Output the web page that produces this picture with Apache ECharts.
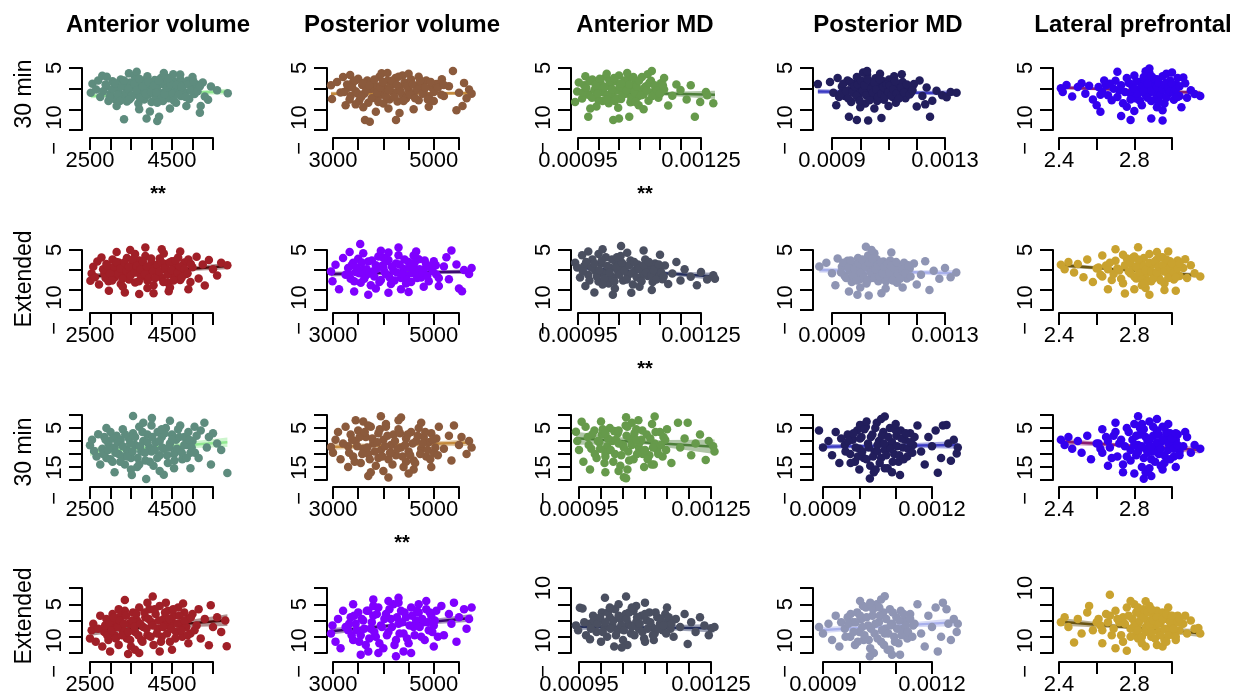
<!DOCTYPE html>
<html>
<head>
<meta charset="utf-8">
<script src="https://cdn.jsdelivr.net/npm/echarts@6/dist/echarts.min.js"></script>
<style>
html,body{margin:0;padding:0;background:#fff}
#chart{width:1240px;height:699px}
</style>
</head>
<body>
<div id="chart"></div>
<script>
// ---- labels ----
var colTitles = ['Anterior volume', 'Posterior volume', 'Anterior MD', 'Posterior MD', 'Lateral prefrontal'];
var rowTitles = ['30 min', 'Extended', '30 min', 'Extended'];
var stars = [[0, 0], [0, 2], [1, 2], [2, 1]]; // [row, col] of "**" under panel

// ---- tick values and tick labels (MD columns in units of 1e-6) ----
var xTicksVol1 = [2500, 3000, 3500, 4000, 4500, 5000, 5500];
var xLabVol1 = ['2500', '', '', '', '4500', '', ''];
var xTicksVol2 = [3000, 3500, 4000, 4500, 5000, 5500];
var xLabVol2 = ['3000', '', '', '', '5000', ''];
var xTicksAMD = [950, 1000, 1050, 1100, 1150, 1200, 1250];
var xLabAMD = ['0.00095', '', '', '', '', '', '0.00125'];
var xTicksPMD1 = [900, 1000, 1100, 1200, 1300];
var xLabPMD1 = ['0.0009', '', '', '', '0.0013'];
var xTicksPMD2 = [900, 1000, 1100, 1200];
var xLabPMD2 = ['0.0009', '', '', '0.0012'];
var xTicksLPF = [2.4, 2.6, 2.8, 3.0];
var xLabLPF = ['2.4', '', '2.8', ''];

var yTicksA = [-10, -5, 0, 5];
var yLabA = ['\u2212  10', '', '', '5'];
var yTicksB = [-15, -10, -5, 0, 5, 10];
var yLabB = ['\u2212  15', '', '', '', '5', ''];
var yTicksC = [-10, -5, 0, 5, 10];
var yLabC = ['\u2212  10', '', '', '5', ''];
var yLabC2 = ['\u2212  10', '', '', '', '10'];

// ---- points [x, y] ----
var r1c1 = [[2900,0.5],[3000,-1.2],[3050,1.8],[3100,-2.5],[3150,0.2],[3200,-0.8],[3250,2.2],[3300,-1.9],[3350,0.9],[3400,-3.1],[3420,-0.3],[3480,1.5],[3500,-2.2],[3550,0.4],[3600,2.8],[3620,-1.4],[3680,-3.6],[3700,0.9],[3750,-0.6],[3780,1.9],[3820,-2.6],[3850,0.1],[3900,3.0],[3920,-1.5],[3950,1.2],[4000,-3.2],[4020,-0.2],[4080,2.1],[4100,-2.0],[4150,0.6],[4200,-1.0],[4230,2.6],[4280,-3.0],[4300,1.0],[4350,-0.5],[4400,2.0],[4420,-2.3],[4480,0.3],[4520,-1.2],[4560,1.6],[4600,-3.4],[4650,-0.1],[4700,2.3],[4720,-1.8],[4780,0.8],[4820,-0.9],[4880,1.9],[4920,-2.5],[4980,0.2],[5050,-1.3],[5100,1.0],
  [2520,-1.0],[2560,1.2],[2650,-0.2],[2700,2.0],[2750,-2.0],[2800,3.1],[2910,2.9],[2950,-3.0],[3150,-4.2],[3330,-7.4],[3450,3.7],[3640,4.1],[3700,-5.0],[3880,-7.2],[3960,-5.5],[4140,-7.8],[4185,-6.8],[4300,3.8],[4450,-4.8],[4530,3.5],[4700,3.4],[4850,-4.2],[5000,2.8],[5180,-5.8],[5200,-4.2],[5250,1.5],[5300,-1.9],[5380,-2.7],[5450,0.5],[5600,-0.4],[5860,-1.1],
  [2820,-0.6],[2880,1.0],[2980,-2.0],[3060,0.0],[3120,1.3],[3180,-1.5],[3230,-3.0],[3280,0.6],[3330,2.0],[3380,-1.0],[3440,0.0],[3520,-1.6],[3580,1.2],[3640,-0.4],[3720,-2.2],[3790,0.5],[3860,-1.2],[3930,1.6],[3990,-0.8],[4060,0.8],[4120,-1.0],[4180,2.0],[4240,-2.4],[4320,-1.3],[4380,0.2],[4460,1.1],[4540,-2.8],[4600,0.9],[4670,-1.4],[4740,0.4],[4830,-2.0],[4900,1.0],[4960,-0.5],[5020,1.8],[5120,-0.6],[5180,0.6],[3460,-2.6],[4140,-3.4],[3700,2.4],[4420,2.6]];
var r1c2 = [[3300,0.2],[3350,-1.8],[3400,1.6],[3450,-0.6],[3500,2.4],[3520,-2.9],[3580,0.9],[3620,-1.2],[3680,2.0],[3700,-3.4],[3750,-0.1],[3800,1.4],[3830,-2.2],[3880,0.5],[3920,2.9],[3950,-1.5],[4000,-3.6],[4030,0.0],[4080,1.9],[4120,-2.6],[4150,0.8],[4200,-0.9],[4240,2.6],[4280,-3.1],[4320,0.3],[4380,-1.6],[4420,1.5],[4450,-2.4],[4500,-0.3],[4550,2.2],[4600,-1.1],[4650,0.7],[4700,-2.8],[4750,1.2],[4800,-0.5],[4850,2.0],[4900,-1.9],[4950,0.4],[5000,-3.0],[5050,1.1],[3600,-4.5],[4100,-4.8],[4380,3.2],[3450,-3.8],[4700,2.9],
  [2960,0.8],[2980,-2.5],[3080,1.6],[3150,-0.9],[3200,2.8],[3250,-4.0],[3340,3.3],[3635,-7.6],[3730,-8.0],[3850,-5.6],[3965,3.7],[4080,3.8],[4250,-7.6],[4320,-5.9],[4500,3.6],[4600,-5.0],[4900,-4.4],[5160,2.3],[5200,-1.8],[5300,0.6],[5380,4.3],[5450,-5.2],[5500,-1.0],[5570,-4.2],[5600,1.4],[5650,-2.3],[5700,-0.2],[5750,-1.2],
  [3220,-0.8],[3280,1.0],[3330,-2.6],[3380,0.4],[3440,2.0],[3490,-1.2],[3560,-2.0],[3610,1.4],[3660,-0.3],[3720,0.8],[3770,-2.3],[3820,2.2],[3870,-0.9],[3940,0.3],[3990,1.6],[4050,-1.9],[4110,-0.4],[4170,1.9],[4220,-2.0],[4270,0.9],[4340,-0.7],[4400,-3.0],[4470,0.6],[4530,-1.5],[4580,1.0],[4630,-2.3],[4680,-0.2],[4730,2.0],[4780,-1.2],[4830,0.2],[4880,-2.6],[4940,1.6],[5000,-0.8],[5080,0.2],[5150,-1.5],[5200,0.9],[3900,-3.2],[4300,2.9]];
var r1c3 = [[965,0.8],[975,-1.5],[985,2.2],[990,-0.3],[1000,-2.8],[1005,1.4],[1012,-0.9],[1018,2.9],[1025,-3.5],[1030,0.3],[1035,-1.9],[1040,1.8],[1046,-0.4],[1050,3.2],[1055,-2.5],[1060,0.9],[1066,-1.2],[1072,2.4],[1078,-3.3],[1083,0.1],[1090,1.5],[1095,-2.0],[1100,-0.6],[1106,2.8],[1110,-1.4],[1116,0.6],[1122,-2.9],[1128,1.9],[1134,-0.8],[1140,0.4],[1146,-2.2],[1152,1.3],[1160,-0.2],[995,-4.3],[1020,3.6],[1048,-4.6],[1070,3.8],[1098,-4.0],[1000,0.0],[1060,-0.5],[1040,-3.0],[1085,2.8],
  [943,-3.2],[948,-0.7],[952,1.5],[960,-2.4],[968,3.0],[975,-6.8],[980,-4.8],[1036,-7.6],[1050,-7.2],[1075,-6.8],[1110,-5.0],[1130,4.3],[1120,3.5],[1160,2.6],[1170,-4.1],[1180,-1.7],[1190,1.0],[1200,-0.3],[1215,-2.6],[1225,0.8],[1235,-6.8],[1248,-3.2],[1262,-0.8],[1280,-3.5],[1265,-1.6],
  [962,-1.0],[970,0.2],[978,1.8],[984,-2.2],[993,0.9],[998,-1.2],[1003,2.4],[1010,-3.0],[1015,0.4],[1022,-1.6],[1027,1.8],[1033,-0.2],[1038,2.6],[1044,-2.4],[1052,0.6],[1058,-1.6],[1063,2.0],[1069,-0.4],[1075,1.0],[1080,-2.2],[1087,-0.8],[1093,0.6],[1099,2.0],[1104,-1.6],[1112,0.2],[1118,-0.4],[1124,1.4],[1131,-1.8],[1137,0.8],[1143,-0.4],[1150,-1.2],[1157,0.8],[1020,-2.6],[1090,-3.2],[1055,1.2]];
var r1c4 = [[935,0.5],[945,-1.8],[955,2.0],[960,-0.4],[968,-3.2],[975,1.2],[982,-1.1],[988,2.8],[995,-2.5],[1000,0.2],[1006,-0.9],[1012,1.7],[1018,-3.6],[1024,3.4],[1030,-0.1],[1036,-2.2],[1042,1.0],[1048,-1.4],[1054,2.5],[1060,-3.0],[1066,0.6],[1072,-0.7],[1078,1.9],[1084,-2.7],[1090,0.0],[1096,-1.6],[1102,2.2],[1108,-0.3],[1114,-2.0],[1120,1.3],[1126,-3.4],[1132,0.4],[1140,-1.0],[1150,1.6],[1160,-2.3],[1170,0.2],[1180,-0.9],[1190,1.1],[1000,-4.5],[1050,-4.8],[1010,3.9],[1070,3.6],[1100,-4.2],[1120,3.0],[985,-1.2],[1045,0.7],
  [850,1.1],[893,1.6],[905,-1.0],[915,-4.0],[920,2.6],[925,-2.0],[960,-6.8],[988,-7.6],[1028,-7.7],[1075,-7.1],[1024,4.3],[1147,3.5],[1200,-4.3],[1210,2.0],[1220,-1.8],[1235,0.3],[1247,-6.8],[1255,-2.9],[1270,-0.5],[1290,-1.6],[1306,-2.1],[1320,-0.8],[1341,-1.0],[1230,-3.8],
  [932,-1.2],[940,1.2],[950,-0.6],[958,-2.4],[964,1.6],[972,-0.8],[980,0.6],[986,-1.8],[992,1.0],[998,-3.0],[1003,2.0],[1009,-0.4],[1015,0.8],[1021,-1.6],[1027,2.2],[1033,-2.8],[1039,0.0],[1045,-1.0],[1051,1.4],[1057,-0.2],[1063,-2.0],[1069,2.2],[1075,-1.2],[1081,0.4],[1087,-2.0],[1093,1.0],[1099,-0.8],[1105,0.8],[1111,-1.6],[1117,-0.2],[1123,1.8],[1129,-1.2],[1137,-2.4],[1145,0.2],[1155,-0.9],[1165,1.0],[1175,-1.4],[1185,-0.4]];
var r1c5 = [[2.62,-1.5],[2.65,0.8],[2.68,-2.8],[2.70,1.9],[2.72,-0.4],[2.74,-3.5],[2.76,2.6],[2.78,-1.2],[2.79,0.5],[2.80,3.2],[2.81,-2.4],[2.82,-0.2],[2.83,1.6],[2.84,-4.0],[2.85,2.8],[2.86,-1.6],[2.87,0.3],[2.88,3.8],[2.89,-3.0],[2.90,1.2],[2.91,-0.9],[2.92,2.3],[2.93,-2.2],[2.94,0.0],[2.95,3.0],[2.96,-3.6],[2.97,1.4],[2.98,-1.3],[2.99,2.0],[3.00,-0.5],[3.01,-2.7],[3.02,0.9],[3.03,2.6],[3.04,-1.8],[2.84,1.0],[2.88,-1.0],[2.92,-4.5],[2.86,4.2],[2.76,-4.4],[2.95,-5.2],[2.80,-5.4],[2.97,3.6],[2.90,0.6],
  [2.41,0.1],[2.42,-0.8],[2.44,0.9],[2.47,-1.9],[2.50,0.4],[2.52,1.3],[2.54,-1.2],[2.56,0.7],[2.58,-2.6],[2.60,-4.0],[2.62,-5.6],[2.64,2.0],[2.71,4.1],[2.73,-6.6],[2.78,-7.6],[2.88,4.9],[2.89,-7.2],[2.95,-7.7],[3.00,3.9],[3.05,-4.5],[3.07,1.3],[3.08,-2.2],[3.10,-0.4],[3.12,-1.3],[3.15,-1.8],[3.06,2.7],
  [2.61,0.4],[2.63,-0.8],[2.66,-1.6],[2.67,1.2],[2.69,0.0],[2.71,-2.0],[2.73,0.8],[2.75,-0.8],[2.77,1.4],[2.78,-2.6],[2.80,0.0],[2.81,1.8],[2.82,-1.2],[2.83,-3.0],[2.84,0.4],[2.85,-0.4],[2.86,2.0],[2.87,-2.2],[2.88,0.8],[2.89,-0.4],[2.90,2.6],[2.91,-2.6],[2.92,0.4],[2.93,1.4],[2.94,-1.4],[2.95,-0.2],[2.96,1.0],[2.97,-2.2],[2.98,0.2],[2.99,-0.6],[3.00,1.2],[3.01,-1.0],[3.02,-0.2],[3.03,-2.0],[3.04,0.6],[2.87,1.2],[2.93,-3.2],[2.89,3.0]];

var r2c1 = [[2850,-1.0],[2900,1.5],[2950,-2.8],[3000,0.3],[3050,2.6],[3100,-1.9],[3150,-0.2],[3200,1.9],[3250,-3.5],[3300,0.8],[3350,-1.2],[3400,3.0],[3450,-2.4],[3500,0.0],[3550,1.6],[3600,-3.1],[3650,-0.6],[3700,2.4],[3750,-1.7],[3800,0.6],[3850,3.5],[3900,-2.6],[3950,-0.1],[4000,1.8],[4050,-3.8],[4100,0.9],[4150,-1.1],[4200,2.9],[4250,-2.0],[4300,0.2],[4350,1.5],[4400,-3.2],[4450,-0.4],[4500,2.2],[4550,-1.5],[4600,1.0],[4650,3.1],[4700,-2.5],[4750,0.1],[4800,1.9],[4850,-1.0],[4900,2.6],[4950,-3.0],[5000,0.7],[3600,4.0],[3900,-4.5],[4300,4.1],[4450,-4.4],[3300,-4.2],
  [2510,-2.7],[2540,-0.9],[2580,0.8],[2620,-1.8],[2680,2.1],[2720,-3.6],[2780,3.1],[2960,-5.2],[3150,4.5],[3350,-5.6],[3480,5.0],[3700,-6.0],[3850,5.6],[4050,-5.8],[4250,5.2],[4420,-5.3],[4700,4.6],[4900,-4.8],[5100,3.3],[5150,-2.1],[5250,1.4],[5300,-3.9],[5400,2.5],[5500,0.2],[5600,-1.4],[5700,1.8],[5850,1.2],
  [2820,0.2],[2880,-2.0],[2930,1.0],[2990,-0.8],[3040,-2.6],[3090,0.9],[3140,2.0],[3190,-1.0],[3240,0.4],[3290,-2.2],[3340,1.9],[3390,-0.2],[3440,0.9],[3490,-1.4],[3540,2.6],[3590,-0.6],[3640,1.0],[3690,-2.8],[3740,0.2],[3790,2.1],[3840,-1.0],[3890,0.8],[3940,-2.0],[3990,2.9],[4040,-0.3],[4090,-2.0],[4140,1.3],[4190,-0.4],[4240,2.0],[4290,-3.0],[4340,0.6],[4390,-1.2],[4440,1.9],[4490,0.0],[4540,-2.6],[4590,2.4],[4640,-0.6],[4690,0.9],[4740,-1.8],[4800,0.3],[4880,-0.8],[4960,1.5]];
var r2c2 = [[3300,0.5],[3350,-2.2],[3400,1.8],[3450,-0.5],[3500,2.8],[3550,-3.2],[3600,0.2],[3650,-1.4],[3700,2.1],[3750,-3.8],[3800,-0.3],[3850,1.2],[3900,3.4],[3950,-2.5],[4000,0.6],[4050,-1.0],[4100,2.5],[4150,-3.5],[4200,-0.2],[4250,1.6],[4300,3.7],[4350,-2.0],[4400,0.3],[4450,-1.3],[4500,2.0],[4550,-3.0],[4600,0.9],[4650,-0.6],[4700,2.7],[4750,-1.9],[4800,0.0],[4850,1.4],[4900,-2.8],[4950,0.5],[5000,2.2],[5050,-1.1],[3600,4.2],[3850,-4.6],[4100,4.4],[4350,-4.8],[4600,3.6],[4800,-4.2],
  [2960,-0.4],[2990,-2.8],[3050,1.3],[3120,-4.8],[3200,3.0],[3250,-1.2],[3330,4.5],[3420,-5.4],[3540,6.5],[3700,-6.2],[3950,4.8],[4100,-5.7],[4300,5.6],[4500,-5.5],[4650,4.6],[5100,-4.0],[5200,0.9],[5250,3.2],[5300,-2.3],[5350,4.9],[5450,1.4],[5500,-4.6],[5560,-5.3],[5600,0.0],[5700,-1.0],[5750,0.5],
  [3320,-1.0],[3370,1.2],[3420,-2.8],[3470,0.6],[3520,-0.8],[3570,1.9],[3620,-2.2],[3670,0.2],[3720,-0.9],[3770,2.4],[3820,-1.6],[3870,0.3],[3920,-3.0],[3970,1.0],[4020,-0.4],[4070,2.2],[4120,-1.8],[4170,0.8],[4220,-2.6],[4270,-0.6],[4320,1.4],[4370,-1.0],[4420,2.6],[4470,-2.5],[4520,0.6],[4570,-0.8],[4620,1.9],[4670,-2.0],[4720,0.2],[4770,-0.6],[4820,2.4],[4870,-1.5],[4920,0.9],[4980,-0.3],[5040,1.2],[5100,-2.0],[4000,3.0],[4450,-3.4]];
var r2c3 = [[965,1.0],[975,-1.2],[985,2.6],[992,-0.2],[1000,-2.9],[1006,1.7],[1012,-0.8],[1018,3.2],[1025,-3.4],[1030,0.5],[1036,-1.8],[1042,2.1],[1048,-0.4],[1054,3.5],[1060,-2.6],[1066,0.8],[1072,-1.3],[1078,2.4],[1084,-3.6],[1090,0.0],[1096,1.4],[1102,-2.1],[1108,-0.7],[1114,2.6],[1120,-1.5],[1126,0.4],[1132,-3.0],[1138,1.6],[1144,-0.9],[1150,0.6],[1156,-2.3],[1162,1.1],[1000,4.0],[1040,-4.6],[1070,4.3],[1100,-4.2],[1030,-2.0],[1060,1.3],
  [943,1.8],[948,0.6],[955,-1.9],[960,3.7],[968,-4.0],[975,4.6],[990,-5.6],[1010,5.2],[1035,-6.2],[1055,6.0],[1080,-5.7],[1110,4.9],[1130,-5.0],[1150,3.8],[1170,-3.5],[1180,-0.9],[1190,2.0],[1200,-2.6],[1210,0.2],[1225,-1.7],[1240,-3.8],[1250,-0.5],[1265,-2.4],[1280,-1.3],[1284,-2.2],
  [962,-0.4],[970,2.0],[978,-2.6],[983,0.6],[990,1.6],[996,-1.6],[1002,0.0],[1008,2.4],[1014,-2.2],[1021,1.0],[1027,-0.6],[1033,2.6],[1039,-2.8],[1045,0.6],[1051,-1.2],[1057,1.8],[1063,-0.2],[1069,-2.4],[1075,1.2],[1081,-0.8],[1087,2.0],[1093,-1.8],[1099,0.4],[1105,-2.8],[1111,1.2],[1117,-0.6],[1123,2.0],[1129,-1.4],[1135,0.0],[1141,-2.4],[1147,1.4],[1153,-0.6],[1159,-1.6],[1045,3.2],[1010,-3.6]];
var r2c4 = [[935,0.8],[945,-1.5],[955,2.3],[962,-0.2],[970,-3.0],[978,1.4],[985,-0.9],[992,3.0],[998,-2.3],[1004,0.4],[1010,-1.1],[1016,1.9],[1022,-3.4],[1028,3.6],[1034,0.1],[1040,-2.0],[1046,1.2],[1052,-1.2],[1058,2.7],[1064,-2.8],[1070,0.8],[1076,-0.5],[1082,2.1],[1088,-2.5],[1094,0.2],[1100,-1.4],[1106,2.4],[1112,-0.1],[1118,-1.8],[1124,1.5],[1130,-3.2],[1138,0.6],[1146,-0.8],[1155,1.8],[1165,-2.1],[1175,0.4],[1000,-4.4],[1050,4.2],[1090,-4.6],[1040,5.0],
  [855,0.9],[880,1.8],[900,-0.8],[912,-3.8],[920,2.9],[960,-5.4],[990,-6.2],[1030,-6.4],[1075,-5.8],[1020,5.8],[1110,4.4],[1150,-4.4],[1190,1.6],[1200,-3.6],[1215,-1.2],[1230,2.2],[1245,-5.0],[1260,-0.2],[1280,-2.2],[1300,0.5],[1320,-1.8],[1340,-0.6],
  [932,-0.6],[940,1.8],[950,-2.0],[958,0.6],[966,2.4],[974,-1.4],[981,0.2],[988,-2.6],[995,1.6],[1001,-0.6],[1007,2.6],[1013,-1.8],[1019,0.8],[1025,-2.6],[1031,1.8],[1037,-0.6],[1043,2.8],[1049,-2.0],[1055,0.2],[1061,1.2],[1067,-1.6],[1073,2.0],[1079,-0.8],[1085,0.8],[1091,-2.8],[1097,1.6],[1103,-0.6],[1109,1.0],[1115,-2.6],[1121,0.4],[1127,2.0],[1133,-1.0],[1141,-2.2],[1150,0.0],[1160,-0.8],[1170,1.2],[1178,-1.6]];
var r2c5 = [[2.62,-1.2],[2.65,1.1],[2.68,-2.5],[2.70,2.3],[2.72,-0.1],[2.74,-3.3],[2.76,2.9],[2.78,-0.9],[2.79,0.8],[2.80,3.4],[2.81,-2.1],[2.82,0.1],[2.83,1.9],[2.84,-3.8],[2.85,3.0],[2.86,-1.3],[2.87,0.6],[2.88,4.0],[2.89,-2.8],[2.90,1.5],[2.91,-0.6],[2.92,2.6],[2.93,-1.9],[2.94,0.3],[2.95,3.2],[2.96,-3.4],[2.97,1.7],[2.98,-1.0],[2.99,2.2],[3.00,-0.2],[3.01,-2.4],[3.02,1.0],[3.03,2.4],[3.04,-1.5],[2.86,-4.5],[2.92,4.5],[2.80,-4.8],[2.96,-5.0],[2.74,3.8],[2.90,-1.0],
  [2.41,1.3],[2.43,0.2],[2.45,2.0],[2.48,-0.6],[2.50,1.5],[2.53,-1.8],[2.55,2.6],[2.58,-3.0],[2.60,0.4],[2.63,3.6],[2.66,-4.8],[2.70,5.2],[2.75,-5.9],[2.82,5.7],[2.88,-6.2],[2.98,4.6],[3.02,-5.2],[3.06,0.5],[3.08,-2.0],[3.10,1.2],[3.12,-0.8],[3.15,-1.6],[3.07,2.7],
  [2.61,0.6],[2.63,-1.6],[2.66,0.2],[2.67,1.8],[2.69,-1.0],[2.71,0.4],[2.73,-2.2],[2.75,1.2],[2.77,-0.4],[2.78,2.0],[2.80,-1.6],[2.81,0.8],[2.82,2.6],[2.83,-0.8],[2.84,-2.4],[2.85,1.0],[2.86,0.0],[2.87,-2.8],[2.88,1.8],[2.89,-0.4],[2.90,-2.2],[2.91,2.2],[2.92,-0.6],[2.93,0.8],[2.94,-2.6],[2.95,1.2],[2.96,-0.4],[2.97,2.6],[2.98,-2.0],[2.99,0.6],[3.00,1.6],[3.01,-0.6],[3.02,-1.8],[3.03,0.4],[3.04,1.6],[2.94,3.2],[2.85,-3.4],[2.79,3.0]];

var r3c1 = [[2800,-3.0],[2850,1.5],[2900,-6.5],[2950,-1.0],[3000,3.5],[3050,-8.0],[3100,-2.5],[3150,2.0],[3200,-5.0],[3250,0.5],[3300,4.5],[3350,-9.0],[3400,-3.5],[3450,1.0],[3500,-6.5],[3550,3.0],[3600,-1.5],[3650,-10.0],[3700,5.5],[3750,-4.0],[3800,0.0],[3850,-7.5],[3900,2.5],[3950,-2.5],[4000,6.0],[4050,-9.5],[4100,-0.5],[4150,3.5],[4200,-5.5],[4250,1.5],[4300,-3.0],[4350,5.0],[4400,-8.5],[4450,-1.0],[4500,2.5],[4550,-5.0],[4600,0.5],[4650,4.5],[4700,-3.5],[4750,-7.0],[4800,1.5],[4850,-1.5],[4900,3.5],[4950,-4.5],[5000,0.0],[5100,2.0],[3500,-11.0],[4200,-11.5],[3800,7.0],[4550,-10.5],[3300,-6.0],[4000,-4.0],
  [2500,-1.6],[2550,0.5],[2600,-3.8],[2660,-6.0],[2700,2.6],[2750,-9.0],[2900,5.0],[3100,-12.0],[3520,-13.1],[3550,9.6],[3870,-14.6],[4010,8.8],[4300,-13.0],[4450,7.8],[4700,6.0],[4950,-10.5],[5050,5.5],[5150,-6.5],[5200,4.0],[5290,7.0],[5350,-2.5],[5400,1.5],[5450,-9.0],[5500,3.0],[5600,-1.0],[5700,-3.5],[5850,-12.3],
  [2820,-5.0],[2880,0.5],[2940,-3.5],[3000,-7.0],[3060,1.0],[3120,-4.5],[3180,-0.5],[3240,-8.0],[3300,-2.0],[3360,2.5],[3420,-6.0],[3480,-1.0],[3540,-4.0],[3600,1.5],[3660,-6.5],[3720,-2.0],[3780,3.5],[3840,-4.5],[3900,-0.5],[3960,-8.0],[4020,1.5],[4080,-3.5],[4140,-6.5],[4200,0.0],[4260,-2.5],[4320,3.0],[4380,-5.5],[4440,-2.5],[4500,0.5],[4560,-7.5],[4620,-3.0],[4680,1.5],[4740,-4.5],[4800,-1.5],[4860,-6.5],[4920,0.5],[4980,-2.5],[5060,-4.5],[3700,-9.0],[4250,4.5]];
var r3c2 = [[3300,-2.0],[3350,2.5],[3400,-6.0],[3450,0.0],[3500,4.0],[3550,-8.5],[3600,-3.0],[3650,1.5],[3700,-5.0],[3750,5.5],[3800,-1.0],[3850,-9.5],[3900,3.0],[3950,-3.5],[4000,0.5],[4050,6.5],[4100,-7.0],[4150,-1.5],[4200,2.5],[4250,-5.5],[4300,4.5],[4350,-2.5],[4400,-10.0],[4450,1.0],[4500,-4.0],[4550,3.5],[4600,-7.5],[4650,0.0],[4700,5.0],[4750,-3.0],[4800,1.5],[4850,-6.0],[4900,-0.5],[4950,3.0],[5000,-4.5],[5050,1.0],[3600,7.5],[4000,-11.5],[4300,8.0],[4600,-11.0],[3750,-12.0],[4150,-4.5],[3900,-6.5],[4450,-8.0],
  [2960,-2.3],[3000,-4.5],[3050,0.5],[3100,3.5],[3150,-7.0],[3200,-1.0],[3250,5.5],[3300,-10.0],[3450,8.0],[3700,-13.5],[3950,9.5],[4100,-14.0],[4350,9.0],[4500,-12.5],[4750,7.0],[4950,-10.0],[5100,5.5],[5200,-3.0],[5300,2.0],[5350,-7.5],[5400,6.0],[5500,-1.5],[5550,1.5],[5650,-5.0],[5700,0.0],[5750,-2.5],
  [3320,-4.5],[3380,0.5],[3430,-8.0],[3480,-2.0],[3530,1.5],[3580,-5.0],[3630,3.5],[3680,-2.5],[3730,-7.0],[3780,1.0],[3830,-4.0],[3880,-0.5],[3930,4.5],[3980,-6.0],[4030,-2.0],[4080,2.0],[4130,-4.5],[4180,-9.0],[4230,0.0],[4280,-3.0],[4330,3.0],[4380,-6.0],[4430,-1.5],[4480,2.5],[4530,-5.5],[4580,-1.0],[4630,-8.5],[4680,2.0],[4730,-5.0],[4780,-1.0],[4830,3.5],[4880,-3.5],[4930,-7.0],[4980,0.5],[5030,-2.5],[5080,-5.5],[4050,5.5],[3700,6.0]];
var r3c3 = [[970,1.5],[978,-3.0],[985,4.0],[990,-6.5],[996,-0.5],[1002,2.5],[1008,-8.5],[1014,-2.0],[1020,5.0],[1026,0.0],[1032,-5.0],[1038,3.0],[1044,-9.5],[1050,-1.5],[1056,6.0],[1062,-4.0],[1068,1.0],[1074,-7.0],[1080,4.5],[1086,-2.5],[1092,0.5],[1098,-10.0],[1104,2.5],[1110,-5.5],[1116,6.5],[1122,-1.0],[1128,-3.5],[1134,3.5],[1140,-6.0],[1146,0.5],[1000,7.5],[1040,-11.5],[1085,8.0],[1120,-9.0],[1060,-11.0],[1030,3.8],[1095,-5.0],[1010,-4.5],[1070,7.0],
  [943,3.6],[946,0.0],[950,-3.5],[956,7.4],[960,-8.0],[965,5.5],[975,-11.0],[1010,-12.0],[1052,-13.9],[1057,-14.3],[1057,9.1],[1122,9.4],[1150,4.5],[1160,-8.5],[1175,7.0],[1180,-2.5],[1190,1.0],[1197,7.0],[1205,-5.5],[1215,-1.0],[1225,2.5],[1238,-7.3],[1245,0.0],[1255,-2.0],[1258,-4.0],
  [972,-1.5],[980,2.5],[986,-5.0],[993,0.0],[998,-3.0],[1004,4.5],[1010,-6.0],[1016,1.0],[1022,-3.5],[1028,-8.0],[1034,0.5],[1040,4.0],[1046,-5.5],[1052,-2.5],[1058,2.0],[1064,-7.5],[1070,-1.5],[1076,3.0],[1082,-5.0],[1088,-0.5],[1094,4.0],[1100,-3.5],[1106,-7.0],[1112,1.0],[1118,-2.5],[1124,3.5],[1130,-5.0],[1136,-1.5],[1142,1.5],[1148,-3.5],[1040,-1.0],[1080,0.5],[1010,3.0],[1115,-9.0],[1060,5.5]];
var r3c4 = [[960,-1.5],[968,2.5],[975,-5.0],[982,0.5],[988,-8.0],[994,4.0],[1000,-3.0],[1006,1.5],[1012,-6.5],[1018,5.5],[1024,-1.0],[1030,-9.5],[1036,2.5],[1042,-4.0],[1048,7.0],[1054,0.0],[1060,-6.5],[1066,3.5],[1072,-2.0],[1078,-10.5],[1084,5.0],[1090,-0.5],[1096,-5.0],[1102,2.0],[1108,-8.0],[1114,4.0],[1120,-2.5],[1126,0.5],[1132,-6.0],[1140,3.0],[1148,-1.5],[1000,-11.0],[1060,8.5],[1040,-12.0],[1010,6.0],[1090,-12.0],[1070,-3.5],[1050,-1.5],
  [889,4.0],[900,-2.5],[915,0.0],[925,-5.5],[935,3.5],[945,-8.5],[950,1.0],[1002,6.2],[1029,-14.4],[1070,9.4],[1112,-13.1],[1160,6.0],[1170,-4.0],[1180,-9.0],[1190,1.5],[1200,-2.0],[1210,4.0],[1216,-12.2],[1225,-6.5],[1230,6.0],[1240,6.2],[1245,-1.0],[1252,-7.6],[1260,0.5],[1268,-4.8],[1271,-2.5],
  [962,-4.0],[970,0.0],[976,-8.5],[984,3.0],[990,-2.5],[996,-6.0],[1002,1.0],[1008,-4.0],[1014,4.5],[1020,-7.0],[1026,-2.5],[1032,1.5],[1038,-6.0],[1044,5.0],[1050,-4.0],[1056,-8.5],[1062,2.0],[1068,-1.0],[1074,-5.5],[1080,1.5],[1086,-3.0],[1092,-8.0],[1098,4.5],[1104,-2.0],[1110,-5.5],[1116,1.0],[1122,-7.0],[1128,3.0],[1134,-3.0],[1140,-0.5],[1146,-4.5],[1152,1.5],[1020,7.5],[1070,-10.5],[1100,6.5],[1045,-11.0]];
var r3c5 = [[2.62,-3.0],[2.65,1.5],[2.68,-6.5],[2.70,3.5],[2.72,-1.0],[2.74,-9.0],[2.76,5.0],[2.78,-3.5],[2.79,0.5],[2.80,6.5],[2.81,-5.5],[2.82,-1.5],[2.83,2.5],[2.84,-10.0],[2.85,4.5],[2.86,-3.0],[2.87,0.0],[2.88,7.5],[2.89,-7.0],[2.90,2.0],[2.91,-2.0],[2.92,4.0],[2.93,-5.0],[2.94,-0.5],[2.95,5.5],[2.96,-8.5],[2.97,1.5],[2.98,-3.5],[2.99,3.0],[3.00,-1.5],[3.01,-6.0],[3.02,0.5],[3.03,2.5],[3.04,-4.0],[2.86,-12.0],[2.92,8.5],[2.80,-12.5],[2.95,-11.0],[2.76,-6.0],[2.90,-4.0],
  [2.41,0.5],[2.43,-1.5],[2.45,1.5],[2.47,-3.0],[2.50,0.0],[2.52,-4.5],[2.55,2.0],[2.57,-7.0],[2.60,-1.0],[2.63,4.5],[2.66,-9.5],[2.70,7.0],[2.74,-12.0],[2.82,9.5],[2.85,-14.5],[2.89,-13.5],[2.98,6.5],[3.02,-10.0],[3.06,-2.0],[3.08,1.5],[3.10,-4.5],[3.12,-1.5],[3.15,-3.0],[3.07,3.5],
  [2.61,-1.0],[2.63,-4.5],[2.66,0.0],[2.67,-2.5],[2.69,2.0],[2.71,-6.0],[2.73,0.5],[2.75,-2.0],[2.77,3.5],[2.78,-7.5],[2.80,-1.5],[2.81,2.0],[2.82,-4.0],[2.83,5.0],[2.84,-2.0],[2.85,-6.5],[2.86,1.5],[2.87,-4.5],[2.88,0.5],[2.89,-2.0],[2.90,5.5],[2.91,-8.0],[2.92,-0.5],[2.93,2.5],[2.94,-3.0],[2.95,0.5],[2.96,-5.5],[2.97,3.5],[2.98,-1.0],[2.99,-7.0],[3.00,1.0],[3.01,-3.0],[3.02,3.0],[3.03,-1.5],[3.04,-5.5],[2.84,6.5],[2.94,-9.5],[2.88,-10.5]];

var r4c1 = [[2850,-3.5],[2900,0.5],[2950,-6.0],[3000,-1.5],[3050,2.0],[3100,-4.5],[3150,-0.5],[3200,-7.5],[3250,1.5],[3300,-3.0],[3350,3.0],[3400,-5.5],[3450,-1.0],[3500,-8.0],[3550,2.5],[3600,-3.5],[3650,0.0],[3700,4.0],[3750,-6.0],[3800,-2.0],[3850,1.0],[3900,-4.5],[3950,3.5],[4000,-0.5],[4050,-7.5],[4100,2.0],[4150,-2.5],[4200,4.5],[4250,-5.0],[4300,0.5],[4350,-1.5],[4400,3.0],[4450,-6.5],[4500,-0.5],[4550,1.5],[4600,-3.5],[4650,4.0],[4700,-1.0],[4750,-5.0],[4800,2.5],[4850,-2.0],[4900,0.5],[4950,-4.0],[5000,2.0],[5100,-1.5],[3600,-9.0],[4200,-9.5],[3900,5.5],
  [2500,-5.5],[2540,-3.0],[2580,-1.0],[2640,-6.5],[2700,-2.5],[2750,1.5],[2800,-8.0],[2990,-9.5],[3200,3.5],[3350,6.3],[3430,-10.3],[3700,-10.0],[4030,7.4],[4350,5.5],[4500,-9.0],[4770,5.2],[4900,-7.0],[5150,3.5],[5200,-5.5],[5300,0.5],[5400,-7.6],[5445,4.7],[5500,-2.0],[5600,1.0],[5700,-3.5],[5835,-7.9],[5800,0.0],
  [2870,-1.5],[2920,-4.5],[2970,-0.5],[3030,-3.0],[3080,1.0],[3130,-5.5],[3180,-2.0],[3230,0.0],[3280,-4.5],[3330,-1.0],[3380,1.5],[3430,-3.5],[3480,-6.0],[3530,0.0],[3580,-2.0],[3630,2.0],[3680,-4.5],[3730,-1.0],[3780,-6.5],[3830,2.5],[3880,-2.5],[3930,0.5],[3980,-5.0],[4030,-1.5],[4080,3.5],[4130,-4.0],[4180,0.0],[4230,-6.5],[4280,-2.0],[4330,2.5],[4380,-4.0],[4430,0.5],[4480,-2.5],[4530,3.5],[4580,-5.5],[4630,-1.0],[4680,1.5],[4730,-3.0],[4800,0.0],[4880,-4.5],[4960,1.0],[5050,-3.0]];
var r4c2 = [[3300,-3.0],[3350,1.0],[3400,-6.0],[3450,-1.0],[3500,2.5],[3550,-4.5],[3600,0.0],[3650,-7.5],[3700,3.0],[3750,-2.5],[3800,1.5],[3850,-5.0],[3900,4.0],[3950,-1.5],[4000,-8.5],[4050,2.0],[4100,-3.5],[4150,0.5],[4200,5.0],[4250,-6.0],[4300,-1.0],[4350,3.0],[4400,-4.0],[4450,1.0],[4500,-7.0],[4550,4.0],[4600,-2.0],[4650,0.0],[4700,2.5],[4750,-5.0],[4800,-0.5],[4850,3.5],[4900,-3.0],[4950,1.5],[5000,-1.5],[5050,3.0],[3700,-9.5],[4100,6.0],[4400,-9.5],[4700,5.0],[3900,-10.0],
  [2960,-4.0],[2990,-1.5],[3050,-6.5],[3100,0.5],[3150,-8.5],[3200,3.0],[3250,-2.0],[3400,5.0],[3550,-10.5],[3800,6.5],[4250,-11.0],[4300,7.0],[4550,-10.0],[4850,6.0],[5000,-8.0],[5150,4.5],[5200,-4.5],[5300,2.0],[5350,-1.0],[5400,5.5],[5450,-6.5],[5500,1.0],[5600,3.5],[5650,-2.5],[5700,0.5],[5750,4.0],
  [3320,-1.0],[3370,-4.5],[3420,1.5],[3470,-3.0],[3520,-6.5],[3570,0.5],[3620,-2.5],[3670,3.0],[3720,-5.5],[3770,-0.5],[3820,-3.5],[3870,2.0],[3920,-7.0],[3970,-2.0],[4020,0.5],[4070,-4.5],[4120,3.5],[4170,-2.0],[4220,-7.5],[4270,1.0],[4320,-4.0],[4370,-0.5],[4420,2.5],[4470,-5.5],[4520,-1.5],[4570,1.5],[4620,-4.5],[4670,3.0],[4720,-2.0],[4770,0.5],[4820,-6.0],[4870,-0.5],[4920,2.5],[4970,-3.5],[5020,0.0],[5080,-5.0],[3800,4.5],[4300,5.5]];
var r4c3 = [[975,-1.0],[982,1.5],[990,-3.5],[996,0.0],[1002,2.5],[1008,-2.0],[1014,-5.0],[1020,1.0],[1026,-1.5],[1032,3.5],[1038,-3.0],[1044,0.5],[1050,-6.0],[1056,2.0],[1062,-1.0],[1068,-4.0],[1074,3.0],[1080,-0.5],[1086,-2.5],[1092,1.5],[1098,-5.5],[1104,0.0],[1110,2.5],[1116,-2.0],[1122,-4.0],[1128,1.0],[1134,-1.0],[1140,-3.0],[1146,2.0],[1152,-0.5],[1158,-2.5],[1040,5.0],[1080,4.5],[1000,-6.5],[1120,-6.0],[1060,-7.5],
  [943,-1.5],[948,-3.0],[952,3.9],[958,3.7],[962,-0.5],[966,-4.5],[975,-5.8],[1009,7.0],[1057,7.4],[1047,-8.3],[1030,-8.0],[1100,5.5],[1150,4.0],[1165,-5.0],[1170,0.5],[1180,-2.0],[1190,2.0],[1197,-7.2],[1205,-0.5],[1215,-3.5],[1225,1.0],[1235,-1.5],[1245,-4.5],[1251,-2.4],[1258,-2.0],
  [977,-2.5],[984,0.0],[992,-1.0],[998,1.0],[1004,-3.5],[1010,-0.5],[1016,2.5],[1022,-2.5],[1028,0.0],[1034,-4.5],[1040,1.5],[1046,-1.5],[1052,-3.0],[1058,0.5],[1064,2.5],[1070,-2.0],[1076,-4.5],[1082,1.0],[1088,-1.0],[1094,-3.5],[1100,2.0],[1106,-2.5],[1112,-0.5],[1118,-4.5],[1124,2.5],[1130,-2.5],[1136,0.5],[1142,-1.5],[1148,-4.0],[1154,1.0],[1160,-1.0],[1070,4.0],[1020,4.0],[1100,-6.5]];
var r4c4 = [[960,-2.5],[968,1.0],[975,-5.0],[982,-0.5],[988,-7.5],[994,2.5],[1000,-3.5],[1006,0.5],[1012,-6.0],[1018,4.0],[1024,-1.5],[1030,-8.5],[1036,1.5],[1042,-4.0],[1048,5.0],[1054,-0.5],[1060,-6.5],[1066,2.5],[1072,-2.5],[1078,-9.0],[1084,3.5],[1090,-1.0],[1096,-5.0],[1102,1.0],[1108,-7.0],[1114,3.0],[1120,-2.5],[1126,0.0],[1132,-5.5],[1140,2.0],[1148,-1.5],[1060,6.5],[1040,-10.0],[1010,4.5],[1090,-10.5],[1070,-4.0],
  [889,-2.0],[900,-4.0],[915,-1.0],[925,-6.0],[935,1.5],[945,-8.0],[950,-0.5],[1002,6.0],[1029,-11.0],[1070,7.5],[1112,-10.5],[1160,5.0],[1170,-4.0],[1180,-8.0],[1190,1.5],[1200,-2.0],[1210,4.0],[1216,-9.5],[1225,-5.0],[1230,5.5],[1240,3.5],[1245,-1.0],[1252,-6.0],[1260,0.5],[1268,-3.5],[1271,-1.0],
  [962,-5.0],[970,-1.0],[976,2.0],[984,-3.5],[990,-0.5],[996,-6.5],[1002,1.5],[1008,-2.0],[1014,-4.5],[1020,1.0],[1026,-6.0],[1032,-2.5],[1038,3.5],[1044,-1.0],[1050,-5.5],[1056,1.5],[1062,-3.0],[1068,-7.5],[1074,0.5],[1080,-4.0],[1086,-1.5],[1092,2.5],[1098,-6.5],[1104,-2.5],[1110,0.0],[1116,-4.5],[1122,2.0],[1128,-1.5],[1134,-3.5],[1140,0.5],[1146,-5.0],[1152,-1.0],[1030,5.5],[1085,-9.0],[1055,4.0]];
var r4c5 = [[2.62,-1.5],[2.65,2.0],[2.68,-4.5],[2.70,3.0],[2.72,-0.5],[2.74,-6.5],[2.76,4.0],[2.78,-2.5],[2.79,0.5],[2.80,5.0],[2.81,-4.0],[2.82,-1.0],[2.83,2.0],[2.84,-7.0],[2.85,3.5],[2.86,-2.0],[2.87,0.0],[2.88,4.5],[2.89,-5.0],[2.90,1.5],[2.91,-1.5],[2.92,3.0],[2.93,-3.5],[2.94,-0.5],[2.95,2.5],[2.96,-6.0],[2.97,0.5],[2.98,-2.5],[2.99,1.5],[3.00,-1.0],[3.01,-4.5],[3.02,0.0],[3.03,1.5],[3.04,-3.0],[2.86,-8.0],[2.78,6.0],[2.92,-7.5],[2.82,-5.5],[2.74,1.0],
  [2.41,-0.5],[2.43,1.0],[2.45,-2.0],[2.48,-6.8],[2.50,0.5],[2.52,-4.0],[2.55,2.5],[2.56,4.5],[2.58,-3.0],[2.60,-0.5],[2.63,-7.0],[2.67,7.9],[2.70,-8.5],[2.76,-9.3],[2.86,5.9],[2.95,-8.0],[2.98,4.0],[3.02,-6.0],[3.06,-1.0],[3.08,-4.0],[3.10,0.0],[3.12,-2.5],[3.14,-2.3],[3.15,-4.0],[3.07,1.5],
  [2.61,0.5],[2.63,-3.0],[2.66,-0.5],[2.67,1.5],[2.69,-2.5],[2.71,0.5],[2.73,-4.5],[2.75,-1.0],[2.77,1.5],[2.78,-5.0],[2.80,-1.5],[2.81,2.5],[2.82,-3.0],[2.83,0.0],[2.84,-5.0],[2.85,1.0],[2.86,-3.5],[2.87,2.5],[2.88,-1.5],[2.89,-3.5],[2.90,0.0],[2.91,-5.5],[2.92,1.0],[2.93,-1.0],[2.94,-4.5],[2.95,0.5],[2.96,-2.5],[2.97,2.0],[2.98,-4.5],[2.99,-0.5],[3.00,1.5],[3.01,-2.5],[3.02,-5.0],[3.03,-0.5],[3.04,0.5],[2.89,3.5],[2.82,4.0],[2.97,-6.5]];

// ---- fitted lines [[x0,y0],[x1,y1]] and confidence bands [x, lower, upper] ----
var fits = [
  [[[2520,-1.8],[5860,-0.7]], [[2960,-1.2],[5750,-1.1]], [[943,-0.7],[1284,-1.5]], [[850,-0.7],[1346,-1.1]], [[2.41,0.3],[3.15,-1.0]]],
  [[[2510,-1.6],[5850,1.0]], [[2960,-1.0],[5750,-0.4]], [[943,0.6],[1284,-1.6]], [[855,0.0],[1340,-0.8]], [[2.41,1.2],[3.15,-1.4]]],
  [[[2500,-4.1],[5850,-0.5]], [[2960,-2.3],[5750,-0.6]], [[943,1.1],[1258,-2.2]], [[889,-2.2],[1271,-1.5]], [[2.41,-0.2],[3.15,-3.5]]],
  [[[2500,-3.5],[5850,0.1]], [[2960,-3.3],[5750,0.8]], [[943,-1.9],[1258,-2.4]], [[889,-3.0],[1271,-0.5]], [[2.41,-0.4],[3.15,-3.9]]]
];
var bands = [
  [[[2520,-2.3,-1.3],[4190,-1.5,-1.0],[5860,-1.4,0.0]], [[2960,-1.65,-0.75],[4355,-1.35,-0.95],[5750,-1.55,-0.65]], [[943,-1.3,-0.1],[1114,-1.35,-0.85],[1284,-2.5,-0.5]], [[850,-1.3,-0.1],[1098,-1.15,-0.65],[1346,-1.8,-0.4]], [[2.41,-0.2,0.8],[2.78,-0.55,-0.15],[3.15,-1.5,-0.5]]],
  [[[2510,-2.3,-0.9],[4180,-0.6,0.0],[5850,0.2,1.8]], [[2960,-1.6,-0.4],[4355,-0.95,-0.45],[5750,-1.0,0.2]], [[943,0.0,1.2],[1114,-0.75,-0.25],[1284,-2.5,-0.7]], [[855,-0.7,0.7],[1098,-0.7,-0.1],[1340,-1.6,0.0]], [[2.41,0.6,1.8],[2.78,-0.35,0.15],[3.15,-2.0,-0.8]]],
  [[[2500,-5.7,-2.5],[4175,-3.1,-1.5],[5850,-2.3,1.3]], [[2960,-3.5,-1.1],[4355,-2.05,-0.85],[5750,-1.9,0.7]], [[943,-1.4,3.6],[1100,-1.35,0.25],[1258,-5.0,0.6]], [[889,-3.2,-1.2],[1080,-2.45,-1.25],[1271,-3.0,0.0]], [[2.41,-1.4,1.0],[2.78,-2.45,-1.25],[3.15,-4.8,-2.2]]],
  [[[2500,-4.7,-2.3],[4175,-2.2,-1.2],[5850,-1.7,1.9]], [[2960,-4.3,-2.3],[4355,-1.75,-0.75],[5750,-0.4,2.0]], [[943,-2.9,-0.9],[1100,-2.65,-1.65],[1258,-3.7,-1.1]], [[889,-4.0,-2.0],[1080,-2.25,-1.25],[1271,-1.8,0.8]], [[2.41,-1.6,0.8],[2.78,-2.65,-1.65],[3.15,-5.1,-2.7]]]
];

var points = [[r1c1, r1c2, r1c3, r1c4, r1c5], [r2c1, r2c2, r2c3, r2c4, r2c5], [r3c1, r3c2, r3c3, r3c4, r3c5], [r4c1, r4c2, r4c3, r4c4, r4c5]];

// ---- colours ----
var dotColA = ['#5e8c7e', '#8b5a3c', '#669a4b', '#221e5c', '#3300ee'];
var dotColB = ['#a01f27', '#7f00ff', '#4a4f60', '#8f95b4', '#c9a22f'];
var lineColA = ['#90e890', '#c48a3c', '#4d7f3a', '#3c3cc4', '#8a1c72'];
var lineColB = ['#4e0b0b', '#3c0a70', '#26305e', '#a8b0ec', '#6a5512'];

// ---- layout ----
var FONT = '"Liberation Sans", Arial, Helvetica, sans-serif';
var colLayout = [
  {yx: 82, right: 234, xpx: [[90, 213], [90, 213]]},
  {yx: 327, right: 478, xpx: [[333, 459], [333, 459]]},
  {yx: 571, right: 720, xpx: [[578, 701], [579, 711]]},
  {yx: 813, right: 964, xpx: [[832, 945], [823, 932]]},
  {yx: 1053, right: 1207, xpx: [[1059, 1172], [1059, 1172]]}
];
var colCenters = [158, 402, 645, 888, 1133];
var rowLayout = [
  {q: [68, 130], xy: 138, lab: 94},
  {q: [250, 310], xy: 313, lab: 279},
  {q: [415, 480], xy: 487, lab: 452},
  {q: [588, 653], xy: 662, lab: 616}
];

function xTickSet(r, c) {
  if (c === 0) return [xTicksVol1, xLabVol1];
  if (c === 1) return [xTicksVol2, xLabVol2];
  if (c === 2) return [xTicksAMD, xLabAMD];
  if (c === 3) return r < 2 ? [xTicksPMD1, xLabPMD1] : [xTicksPMD2, xLabPMD2];
  return [xTicksLPF, xLabLPF];
}
function yTickSet(r, c) {
  if (r < 2) return [yTicksA, yLabA];
  if (r === 2) return [yTicksB, yLabB];
  return (c === 2 || c === 4) ? [yTicksC, yLabC2] : [yTicksC, yLabC];
}
function lin(p, p0, p1, v0, v1) {
  return v0 + (p - p0) * (v1 - v0) / (p1 - p0);
}
function labeler(ticks, labs) {
  var step = ticks[1] - ticks[0];
  return function (v) {
    for (var i = 0; i < ticks.length; i++) {
      if (Math.abs(ticks[i] - v) < step * 1e-3) return labs[i];
    }
    return '';
  };
}

var grids = [], xAxes = [], yAxes = [], series = [], graphics = [];
var axisLineStyle = {color: '#000', width: 2};
var labelStyle = {color: '#000', fontSize: 22, fontFamily: FONT};

for (var r = 0; r < 4; r++) {
  for (var c = 0; c < 5; c++) {
    var cl = colLayout[c], rl = rowLayout[r];
    var xs = xTickSet(r, c), ys = yTickSet(r, c);
    var xt = xs[0], yt = ys[0];
    var xp = cl.xpx[r < 2 ? 0 : 1];
    var t0 = xt[0], t1 = xt[xt.length - 1];
    var yBot = yt[0], yTop = yt[yt.length - 1];

    // data grid
    var gl = cl.yx + 1, gr = cl.right, gt = rl.q[0] - 22, gb = rl.q[1] + 16;
    var gi = grids.length;
    grids.push({left: gl, top: gt, width: gr - gl, height: gb - gt});
    xAxes.push({gridIndex: gi, type: 'value', show: false,
      min: lin(gl, xp[0], xp[1], t0, t1), max: lin(gr, xp[0], xp[1], t0, t1)});
    yAxes.push({gridIndex: gi, type: 'value', show: false,
      max: lin(gt, rl.q[0], rl.q[1], yTop, yBot), min: lin(gb, rl.q[0], rl.q[1], yTop, yBot)});

    var isA = (r % 2 === 0);
    var lc = isA ? lineColA[c] : lineColB[c];
    var band = bands[r][c];
    series.push({
      type: 'custom', xAxisIndex: gi, yAxisIndex: gi, z: 1, silent: true,
      data: band,
      encode: {x: 0, y: [1, 2]},
      renderItem: (function (band, lc) {
        return function (params, api) {
          if (params.dataIndex !== 0) return;
          var pts = [], i;
          for (i = 0; i < band.length; i++) pts.push(api.coord([band[i][0], band[i][2]]));
          for (i = band.length - 1; i >= 0; i--) pts.push(api.coord([band[i][0], band[i][1]]));
          return {type: 'polygon', shape: {points: pts}, style: {fill: lc, opacity: 0.45}};
        };
      })(band, lc)
    });
    series.push({
      type: 'line', xAxisIndex: gi, yAxisIndex: gi, z: 2, silent: true,
      data: fits[r][c], showSymbol: false,
      lineStyle: {color: lc, width: 2.5}
    });
    series.push({
      type: 'scatter', xAxisIndex: gi, yAxisIndex: gi, z: 3, silent: true,
      data: points[r][c], symbolSize: 8.5,
      itemStyle: {color: isA ? dotColA[c] : dotColB[c], opacity: 1}
    });

    // x axis (drawn only between first and last tick)
    var xi = grids.length;
    grids.push({left: xp[0], top: rl.xy - 1, width: xp[1] - xp[0], height: 1});
    xAxes.push({gridIndex: xi, type: 'value', position: 'bottom', min: t0, max: t1, interval: xt[1] - xt[0],
      axisLine: {show: true, onZero: false, lineStyle: axisLineStyle},
      axisTick: {show: true, length: 12, lineStyle: axisLineStyle},
      axisLabel: Object.assign({margin: 12, showMinLabel: true, showMaxLabel: true, formatter: labeler(xt, xs[1])}, labelStyle),
      splitLine: {show: false}});
    yAxes.push({gridIndex: xi, type: 'value', show: false, min: 0, max: 1});

    // y axis
    var yi = grids.length;
    grids.push({left: cl.yx, top: rl.q[0], width: 1, height: rl.q[1] - rl.q[0]});
    xAxes.push({gridIndex: yi, type: 'value', show: false, min: 0, max: 1});
    yAxes.push({gridIndex: yi, type: 'value', position: 'left', min: yBot, max: yTop, interval: yt[1] - yt[0],
      axisLine: {show: true, onZero: false, lineStyle: axisLineStyle},
      axisTick: {show: true, length: 13, lineStyle: axisLineStyle},
      axisLabel: Object.assign({margin: 16, rotate: 90, showMinLabel: true, showMaxLabel: true, formatter: labeler(yt, ys[1])}, labelStyle),
      splitLine: {show: false}});
  }
}

colTitles.forEach(function (t, c) {
  graphics.push({type: 'text', x: colCenters[c], y: 25, silent: true,
    style: {text: t, font: 'bold 24px ' + FONT, fill: '#000', align: 'center', verticalAlign: 'middle'}});
});
rowTitles.forEach(function (t, r) {
  graphics.push({type: 'text', x: 25, y: rowLayout[r].lab, rotation: Math.PI / 2, silent: true,
    style: {text: t, font: '23px ' + FONT, fill: '#000', align: 'center', verticalAlign: 'middle'}});
});
stars.forEach(function (s) {
  graphics.push({type: 'text', x: colCenters[s[1]], y: rowLayout[s[0]].xy + 56, silent: true,
    style: {text: '**', font: 'bold 20px ' + FONT, fill: '#000', align: 'center', verticalAlign: 'middle'}});
});

var myChart = echarts.init(document.getElementById('chart'), null, {renderer: 'canvas'});
var option = {
  backgroundColor: '#ffffff',
  animation: false,
  textStyle: {fontFamily: FONT},
  grid: grids,
  xAxis: xAxes,
  yAxis: yAxes,
  series: series,
  graphic: graphics
};
myChart.setOption(option);
</script>
</body>
</html>
